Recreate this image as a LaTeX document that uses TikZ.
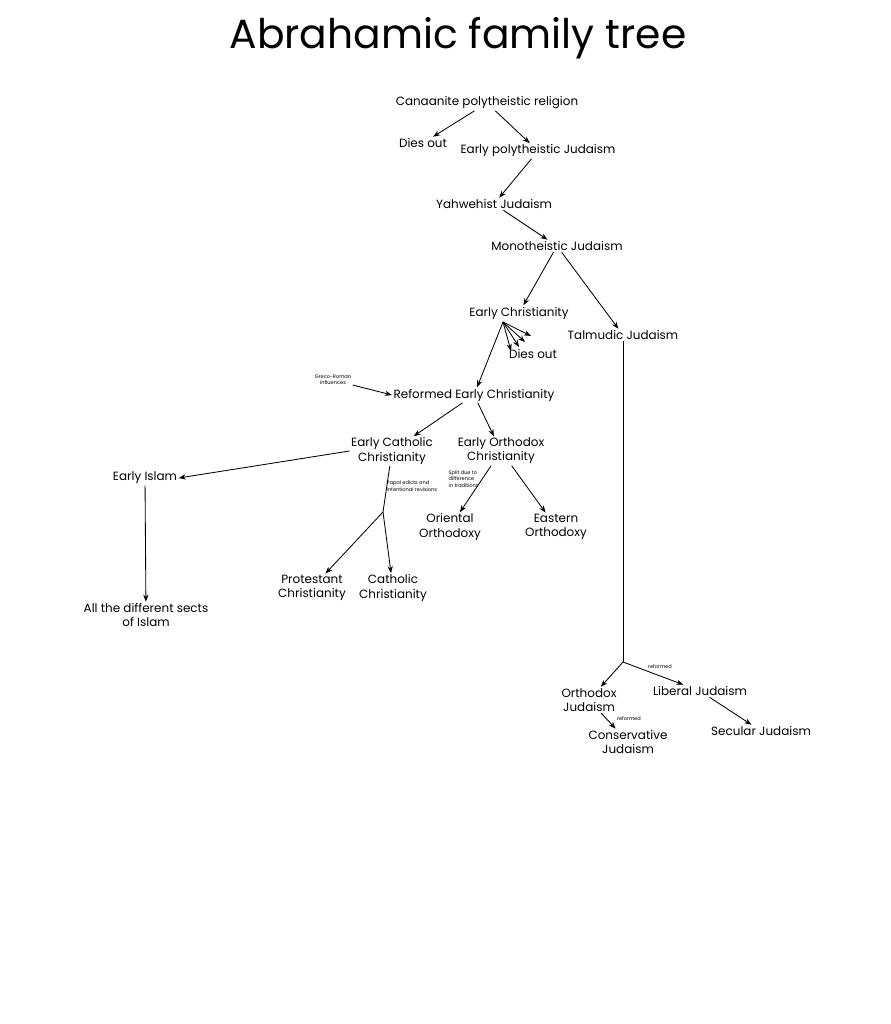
\documentclass[tikz,border=0pt]{standalone}
\usepackage{fontspec}
\setmainfont{Poppins}
\usetikzlibrary{arrows.meta}
\tikzset{
  faith/.style={align=center, font=\fontsize{8.5}{10}\selectfont, inner sep=1pt},
  note/.style={align=left, font=\fontsize{3.6}{4.4}\selectfont, inner sep=1pt},
  branch/.style={-{Stealth[length=5pt]}, line width=0.6pt},
}
\begin{document}
\begin{tikzpicture}[x=0.025cm, y=-0.025cm]
  \fill[white] (0,0) rectangle (890,1024);
  \useasboundingbox (0,0) rectangle (890,1024);
  % title
  \node[font=\fontsize{29}{32}\selectfont] (title) at (458,38) {Abrahamic family tree};
  % judaism line
  \node[faith] (canaan) at (487,103) {Canaanite polytheistic religion};
  \node[faith] (diesA) at (423,143) {Dies out};
  \node[faith] (earlypoly) at (538,151) {Early polytheistic Judaism};
  \node[faith] (yahweh) at (494,204) {Yahwehist Judaism};
  \node[faith] (mono) at (557,246) {Monotheistic Judaism};
  \node[faith] (talmud) at (623,335) {Talmudic Judaism};
  \coordinate (talsplit) at (623,662);
  \node[faith] (orthjud) at (589,700) {Orthodox\\Judaism};
  \node[faith] (libjud) at (700,691) {Liberal Judaism};
  \node[faith] (consjud) at (628,742) {Conservative\\Judaism};
  \node[faith] (secjud) at (761,731) {Secular Judaism};
  \node[note] (reformA) at (660,667) {reformed};
  \node[note] (reformB) at (629,719) {reformed};
  % christianity
  \node[faith] (earlychr) at (519,313) {Early Christianity};
  \node[faith] (diesB) at (533,354) {Dies out};
  \coordinate (fan) at (503,322);
  \node[note, align=center] (greco) at (333,380) {Greco-Roman\\Influences};
  \node[faith] (reformed) at (474,395) {Reformed Early Christianity};
  \node[faith] (earlycath) at (392,451) {Early Catholic\\Christianity};
  \node[faith] (earlyorth) at (501,451) {Early Orthodox\\Christianity};
  \node[note, anchor=west] (split) at (447,479) {Split due to\\difference\\in traditions};
  \node[faith] (oriental) at (450,527) {Oriental\\Orthodoxy};
  \node[faith] (eastern) at (556,527) {Eastern\\Orthodoxy};
  \node[note, anchor=west] (papal) at (385,486) {Papal edicts and\\intentional revisions};
  \coordinate (cathsplit) at (383,512);
  \node[faith] (protestant) at (312,588) {Protestant\\Christianity};
  \node[faith] (catholic) at (393,588) {Catholic\\Christianity};
  % islam
  \node[faith] (islam) at (145,478) {Early Islam};
  \node[faith] (sects) at (146,615) {All the different sects\\of Islam};

  % connectors
  \draw[branch] (canaan) -- (diesA);
  \draw[branch] (canaan) -- (earlypoly);
  \draw[branch] (earlypoly) -- (yahweh);
  \draw[branch] (yahweh) -- (mono);
  \draw[branch] (mono) -- (earlychr);
  \draw[branch] (mono) -- (talmud);
  \draw[line width=0.6pt] (talmud) -- (talsplit);
  \draw[branch] (talsplit) -- (orthjud);
  \draw[branch] (talsplit) -- (libjud);
  \draw[branch] (orthjud) -- (consjud);
  \draw[branch] (libjud) -- (secjud);
  \foreach \dx/\dy in {-2/-18,-8/-12,-14/-7,-22/-3}
    \draw[branch] (fan) -- ([shift={(\dx,\dy)}]diesB.center);
  \draw[branch] (fan) -- (reformed);
  \draw[branch] (greco) -- (reformed.west);
  \draw[branch] (reformed) -- (earlycath);
  \draw[branch] (reformed) -- (earlyorth);
  \draw[branch] (earlyorth) -- (oriental);
  \draw[branch] (earlyorth) -- (eastern);
  \draw[branch] (earlycath.west) -- (islam.east);
  \draw[line width=0.6pt] (earlycath) -- (cathsplit);
  \draw[branch] (cathsplit) -- (protestant);
  \draw[branch] (cathsplit) -- (catholic);
  \draw[branch] (islam) -- (sects);
\end{tikzpicture}
\end{document}
